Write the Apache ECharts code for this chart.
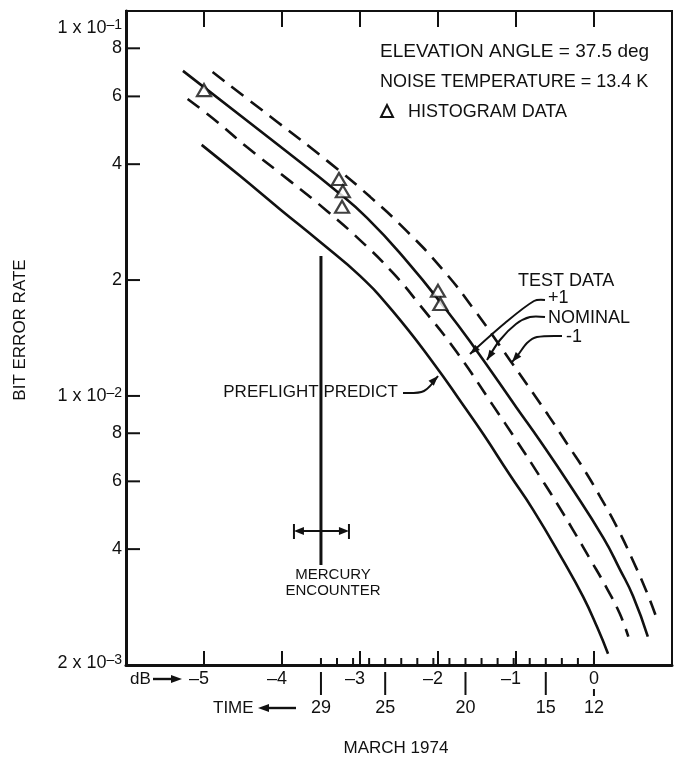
<!DOCTYPE html>
<html><head><meta charset="utf-8">
<script src="https://cdn.jsdelivr.net/npm/echarts@6/dist/echarts.min.js"></script>
<style>html,body{margin:0;padding:0;background:#fff}#c{width:678px;height:759px}</style>
</head><body><div id="c"></div>
<script>
// ---------------- data ----------------
// x in dB, y = bit error rate
const preflightDb  = [-5.03, -4.54, -4.03, -3.51, -3.00, -2.58, -2.06, -1.68, -1.42, -1.08, -0.78, -0.40, -0.14, 0.04, 0.18];
const preflightBer = [0.0449, 0.0373, 0.0306, 0.0251, 0.0205, 0.0166, 0.01218, 0.00948, 0.00796, 0.00624, 0.00506, 0.00375, 0.00301, 0.00251, 0.00214];

const plusOneDb  = [-5.21, -4.83, -4.45, -3.90, -3.42, -3.00, -2.58, -2.23, -1.76, -1.30, -0.99, -0.69, -0.47, -0.27, -0.05, 0.17, 0.33, 0.44];
const plusOneBer = [0.0591, 0.0515, 0.0443, 0.0362, 0.0302, 0.0254, 0.0209, 0.0172, 0.0130, 0.00948, 0.00764, 0.00616, 0.00524, 0.00449, 0.00377, 0.00315, 0.00272, 0.00237];

const nominalDb  = [-5.27, -4.41, -3.90, -3.35, -2.91, -2.40, -1.89, -1.55, -0.99, -0.69, -0.31, 0.12, 0.33, 0.50, 0.69];
const nominalBer = [0.0699, 0.0512, 0.0425, 0.0347, 0.0290, 0.0224, 0.0167, 0.0135, 0.00931, 0.00764, 0.00587, 0.00428, 0.00355, 0.00302, 0.00237];

const minusOneDb  = [-4.89, -4.41, -4.06, -3.42, -2.87, -2.40, -1.94, -1.55, -1.08, -0.59, -0.31, -0.14, 0.08, 0.30, 0.50, 0.68, 0.81];
const minusOneBer = [0.0694, 0.0584, 0.0515, 0.0408, 0.0329, 0.0268, 0.0213, 0.0169, 0.0124, 0.00893, 0.00733, 0.00650, 0.00547, 0.00454, 0.00373, 0.00308, 0.00262];

const histDb  = [-5.00, -3.27, -3.22, -3.23, -2.00, -1.97];
const histBer = [0.0623, 0.0366, 0.0340, 0.0310, 0.01875, 0.01734];

// axis ticks / labels
const dbTicks      = [-5, -4, -3, -2, -1, 0];
const dbTickLabels = ['–5', '–4', '–3', '–2', '–1', '0'];
const dayTicks     = [29, 28, 27, 26, 25, 24, 23, 22, 21, 20, 19, 18, 17, 16, 15, 14, 13, 12];
const dayLabels    = [29, 25, 20, 15, 12];
const yTickValues   = [0.002, 0.004, 0.006, 0.008, 0.01, 0.02, 0.04, 0.06, 0.08, 0.1];
const yTickMantissa = ['2', '4', '6', '8', '1', '2', '4', '6', '8', '1'];
const yTickExp      = ['–3', '', '', '', '–2', '', '', '', '', '–1'];
// March-1974 day number at the right and left edges of the plot
const dayAxisRange = [7.14, 41.14];
const mercuryDay = 29;

// ---------------- chart ----------------
const FONT = '"Liberation Sans", Arial, sans-serif';
const INK = '#111';
const zip = (a, b) => a.map((v, i) => [v, b[i]]);
const chart = echarts.init(document.getElementById('c'), null, {renderer: 'canvas'});

const lineSeries = (name, xs, ys, dashed) => ({
  name, type: 'line', data: zip(xs, ys), showSymbol: false, smooth: 0.5,
  lineStyle: {color: INK, width: 2.6, type: dashed ? [15, 9] : 'solid'},
  silent: true, z: 3
});

chart.setOption({
  animation: false,
  backgroundColor: '#fff',
  grid: {left: 126, right: 6, top: 11, bottom: 94, show: true, borderColor: INK, borderWidth: 2, backgroundColor: 'transparent'},
  xAxis: [
    {type: 'value', position: 'bottom', min: -6, max: 1, interval: 1,
     axisLine: {show: true, onZero: false, lineStyle: {color: INK, width: 3}},
     axisTick: {show: true, inside: true, length: 14, lineStyle: {color: INK, width: 2}},
     axisLabel: {show: false}, splitLine: {show: false}},
    {type: 'value', show: false, inverse: true, min: dayAxisRange[0], max: dayAxisRange[1]},
    {type: 'value', position: 'top', min: -6, max: 1, interval: 1,
     axisLine: {show: true, onZero: false, lineStyle: {color: INK, width: 2}},
     axisTick: {show: true, inside: true, length: 16, lineStyle: {color: INK, width: 2}},
     axisLabel: {show: false}, splitLine: {show: false}}
  ],
  yAxis: [
    {type: 'log', logBase: 10, min: 0.002, max: 0.1,
     axisLine: {show: true, onZero: false, lineStyle: {color: INK, width: 3}},
     axisTick: {show: false}, axisLabel: {show: false}, splitLine: {show: false}, minorTick: {show: false}}
  ],
  series: [
    lineSeries('Preflight predict', preflightDb, preflightBer, false),
    lineSeries('+1', plusOneDb, plusOneBer, true),
    lineSeries('Nominal', nominalDb, nominalBer, false),
    lineSeries('-1', minusOneDb, minusOneBer, true),
    {name: 'Histogram data', type: 'scatter', data: zip(histDb, histBer),
     symbol: 'triangle', symbolSize: [14, 12], z: 5, silent: true,
     itemStyle: {color: '#fff', borderColor: INK, borderWidth: 2.2}}
  ]
});

// ---------------- annotations through the axes ----------------
const xDb  = v => chart.convertToPixel({xAxisIndex: 0}, v);
const xDay = v => chart.convertToPixel({xAxisIndex: 1}, v);
const yB   = v => chart.convertToPixel({yAxisIndex: 0}, v);
const left = xDb(-6), bottom = yB(0.002);

const els = [];
const line = (x1, y1, x2, y2, w) => els.push({type: 'line', silent: true, z: 10,
  shape: {x1, y1, x2, y2}, style: {stroke: INK, lineWidth: w || 2}});
const text = (t, x, y, o) => {
  o = o || {};
  els.push({type: 'text', silent: true, z: 10, x, y, rotation: o.rot || 0,
    style: {text: t, fill: INK, font: (o.size || 18) + 'px ' + FONT,
      align: o.align || 'left', textAlign: o.align || 'left',
      verticalAlign: 'middle', textVerticalAlign: 'middle', rich: o.rich}});
};
const head = (tip, from, len, half) => {
  len = len || 10; half = half || 3.6;
  const dx = tip[0] - from[0], dy = tip[1] - from[1], L = Math.hypot(dx, dy);
  const ux = dx / L, uy = dy / L, bx = tip[0] - ux * len, by = tip[1] - uy * len;
  els.push({type: 'polygon', silent: true, z: 10,
    shape: {points: [tip, [bx - uy * half, by + ux * half], [bx + uy * half, by - ux * half]]},
    style: {fill: INK}});
};
const leader = (pts) => {
  els.push({type: 'polyline', silent: true, z: 10, shape: {points: pts, smooth: 0.3},
    style: {stroke: INK, lineWidth: 2, fill: null}});
  head(pts[pts.length - 1], pts[pts.length - 2]);
};

// y ticks + labels
const rich = {n: {fontSize: 18, fontFamily: FONT, color: INK, lineHeight: 20},
              s: {fontSize: 14, fontFamily: FONT, color: INK, lineHeight: 12, verticalAlign: 'top'}};
yTickValues.forEach((v, i) => {
  const y = yB(v);
  if (v !== 0.002 && v !== 0.1) line(left, y, left + 14, y, 2);
  const t = yTickExp[i] ? '{n|' + yTickMantissa[i] + ' x 10}{s|' + yTickExp[i] + '}' : '{n|' + yTickMantissa[i] + '}';
  const yy = v === 0.1 ? y + 17 : (v === 0.002 ? y - 2 : y);
  text(t, left - 4, yy, {align: 'right', rich});
});

// dB labels
dbTicks.forEach((v, i) => text(dbTickLabels[i], xDb(v) + 5, bottom + 14, {align: 'right'}));
text('dB', 130, bottom + 14, {size: 17});
line(153, bottom + 14, 172, bottom + 14, 2.4);
head([182, bottom + 14], [160, bottom + 14], 11, 4);

// day ticks and labels
dayTicks.forEach(d => line(xDay(d), bottom, xDay(d), bottom - 7, 2));
dayLabels.forEach(d => {
  const x = xDay(d);
  if (d === 12) line(x, bottom + 24, x, bottom + 31, 2);
  else line(x, bottom + 7, x, bottom + 30, 2);
  text(String(d), x, bottom + 43, {align: 'center'});
});
text('TIME', 213, bottom + 43, {size: 17});
line(268, bottom + 43, 296, bottom + 43, 2.4);
head([258, bottom + 43], [280, bottom + 43], 11, 4);
text('MARCH 1974', 396, bottom + 83, {align: 'center', size: 17});

// y axis title
text('BIT ERROR RATE', 20, 330, {align: 'center', rot: Math.PI / 2, size: 17});

// info block
text('ELEVATION ANGLE = 37.5 deg', 380, 52, {size: 19});
text('NOISE TEMPERATURE = 13.4 K', 380, 82, {size: 18});
els.push({type: 'polygon', silent: true, z: 10, shape: {points: [[387, 105], [381, 117], [393, 117]]},
  style: {fill: '#fff', stroke: INK, lineWidth: 2}});
text('HISTOGRAM DATA', 408, 112, {size: 18});

// curve labels + leaders
text('TEST DATA', 518, 281);
text('+1', 548, 298);
text('NOMINAL', 548, 318);
text('-1', 566, 337);
leader([[545, 300], [534, 301], [505, 323], [470, 354]]);
leader([[545, 317], [530, 317], [516, 324], [500, 340], [487, 360]]);
leader([[562, 336], [537, 337], [527, 343], [518, 355], [512, 362]]);
text('PREFLIGHT PREDICT', 398, 392, {align: 'right', size: 17});
leader([[403, 393], [424, 391], [438, 376]]);

// Mercury encounter
const xm = xDay(mercuryDay);
line(xm, 256, xm, 565, 3);
line(xm - 27, 524, xm - 27, 539, 2);
line(xm + 28, 524, xm + 28, 539, 2);
line(xm - 20, 531, xm + 20, 531, 2);
head([xm - 27, 531], [xm, 531], 10, 4);
head([xm + 28, 531], [xm, 531], 10, 4);
text('MERCURY', 333, 575, {align: 'center', size: 15});
text('ENCOUNTER', 333, 591, {align: 'center', size: 15});

chart.setOption({graphic: {elements: els}});
</script>
</body></html>
